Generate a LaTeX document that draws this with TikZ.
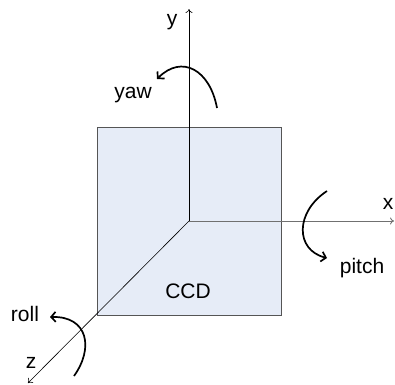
\documentclass[tikz,border=0pt]{standalone}
\usepackage{fontspec}
\setmainfont{Liberation Sans}
\usetikzlibrary{arrows.meta}
\definecolor{ccdfill}{HTML}{E6ECF7}
\definecolor{ccdborder}{HTML}{555555}
\definecolor{xaxis}{HTML}{707070}
\tikzset{
  axis/.style={line width=0.6pt, -{To[length=4pt,width=7pt]}},
  rot/.style={line width=1.7pt, -{Straight Barb[length=4.5pt,width=10pt]}},
  lbl/.style={font=\fontsize{21}{24}\selectfont, inner sep=0pt},
}
\begin{document}
\begin{tikzpicture}[x=1pt,y=-1pt]
\useasboundingbox (0,0) rectangle (395,384);
\node[draw=ccdborder, fill=ccdfill, line width=0.9pt, minimum width=184pt, minimum height=188pt, inner sep=0pt, anchor=north west] (ccd) at (97,127) {};
\node[lbl] (ccdlbl) at (188,291) {CCD};
\coordinate (O) at (189,221);
\coordinate (yend) at (189,9);
\coordinate (xend) at (394,221);
\coordinate (zend) at (28,383);
\draw[axis] (O) -- (yend);
\draw[axis, draw=xaxis, line width=0.9pt] (O) -- (xend);
\draw[axis] (O) -- (zend);
\node[lbl] (ylbl) at (172,22) {y};
\node[lbl] (xlbl) at (388,204) {x};
\node[lbl] (zlbl) at (31,363) {z};
\node[lbl] (yaw) at (133,95) {yaw};
\node[lbl] (pitch) at (362,268) {pitch};
\node[lbl] (roll) at (25,314) {roll};
\coordinate (yawA) at (217,108);
\coordinate (yawB) at (157,79);
\draw[rot] (yawA) .. controls (210,70) and (182,54) .. (yawB);
\coordinate (pitA) at (327,191);
\coordinate (pitB) at (327,258);
\draw[rot] (pitA) .. controls (295,212) and (295,250) .. (pitB);
\coordinate (rolA) at (74,376);
\coordinate (rolB) at (50,317);
\draw[rot] (rolA) .. controls (94,348) and (88,316) .. (rolB);
\end{tikzpicture}
\end{document}
